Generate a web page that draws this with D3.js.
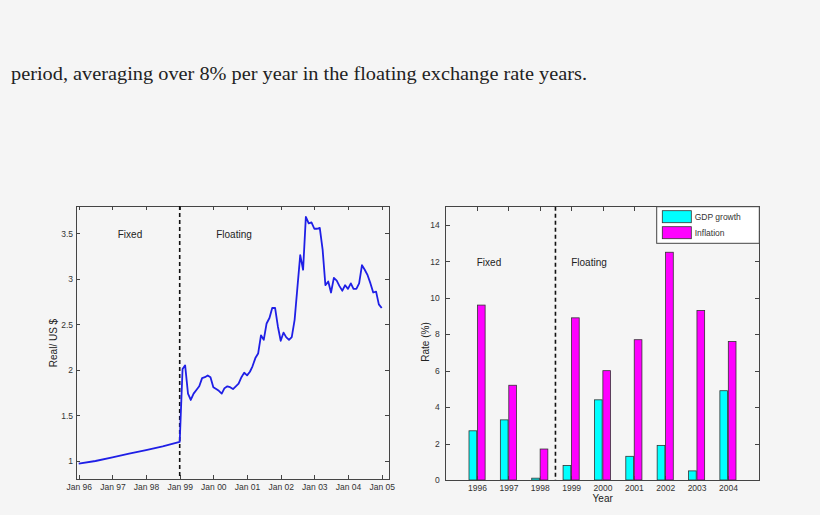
<!DOCTYPE html>
<html lang="en">
  <head>
    <meta charset="UTF-8"/>
    <title>Real per US dollar, GDP growth and inflation</title>
    <script src="https://d3js.org/d3.v7.min.js"></script>
    <style>
        html, body {
          margin: 0;
          background: #f5f5f5;
        }
        .axis text {
          font: 8.5px "Liberation Sans", Arial, sans-serif;
          fill: #333;
        }
        .axis line {
          stroke: #444;
          shape-rendering: crispEdges;
        }
        .frame {
          fill: none;
          stroke: #444;
          shape-rendering: crispEdges;
        }
        .label {
          font: 10px "Liberation Sans", Arial, sans-serif;
          fill: #222;
        }
        .prose {
          font: 18px "Liberation Serif", "DejaVu Serif", serif;
          fill: #222;
        }
    </style>
  </head>
  <body>
    <script>
        // exchange rate, Real per US $
        const rateDates = [
          "1996-01", "1996-07", "1997-01", "1997-07", "1998-01", "1998-07",
          "1999-01", "1999-02", "1999-03", "1999-04", "1999-05", "1999-06",
          "1999-07", "1999-08", "1999-09", "1999-10", "1999-11", "1999-12",
          "2000-01", "2000-02", "2000-03", "2000-04", "2000-05", "2000-06",
          "2000-07", "2000-08", "2000-09", "2000-10", "2000-11", "2000-12",
          "2001-01", "2001-02", "2001-03", "2001-04", "2001-05", "2001-06",
          "2001-07", "2001-08", "2001-09", "2001-10", "2001-11", "2001-12",
          "2002-01", "2002-02", "2002-03", "2002-04", "2002-05", "2002-06",
          "2002-07", "2002-08", "2002-09", "2002-10", "2002-11", "2002-12",
          "2003-01", "2003-02", "2003-03", "2003-04", "2003-05", "2003-06",
          "2003-07", "2003-08", "2003-09", "2003-10", "2003-11", "2003-12",
          "2004-01", "2004-02", "2004-03", "2004-04", "2004-05", "2004-06",
          "2004-07", "2004-08", "2004-09", "2004-10", "2004-11", "2004-12",
          "2005-01"
        ];
        const rateValues = [
          0.97, 1.00, 1.04, 1.08, 1.12, 1.16,
          1.21, 2.01, 2.05, 1.74, 1.67, 1.74,
          1.78, 1.82, 1.91, 1.92, 1.94, 1.92,
          1.81, 1.79, 1.77, 1.74, 1.80, 1.82,
          1.81, 1.79, 1.82, 1.85, 1.92, 1.97,
          1.94, 1.98, 2.04, 2.13, 2.18, 2.38,
          2.33, 2.51, 2.57, 2.68, 2.68, 2.48,
          2.32, 2.41, 2.36, 2.33, 2.36, 2.55,
          2.90, 3.26, 3.10, 3.68, 3.61, 3.62,
          3.55, 3.55, 3.56, 3.32, 2.93, 2.97,
          2.85, 3.01, 2.98, 2.92, 2.87, 2.93,
          2.89, 2.95, 2.89, 2.89, 2.95, 3.15,
          3.10, 3.04, 2.95, 2.85, 2.86, 2.72,
          2.68
        ];
        const rateTicks = [1, 1.5, 2, 2.5, 3, 3.5];
        const regimeChange = "1999-01";

        // yearly rates in percent (right panel)
        const years = [1996, 1997, 1998, 1999, 2000, 2001, 2002, 2003, 2004];
        const gdpGrowth = [2.7, 3.3, 0.1, 0.8, 4.4, 1.3, 1.9, 0.5, 4.9];
        const inflation = [9.6, 5.2, 1.7, 8.9, 6.0, 7.7, 12.5, 9.3, 7.6];
        const rateTicksPct = [0, 2, 4, 6, 8, 10, 12, 14];
        const seriesNames = ["GDP growth", "Inflation"];
        const seriesColors = ["#00ffff", "#ff00ff"];

        const parseMonth = d3.timeParse("%Y-%m");
        const monthFmt = d3.timeFormat("Jan %y");

        const svg = d3.select("body").append("svg")
            .attr("width", 820)
            .attr("height", 515)

        svg.append("rect")
            .attr("width", 820)
            .attr("height", 515)
            .attr("fill", "#f5f5f5")

        // line of body text above the figure
        svg.append("text")
            .attr("class", "prose")
            .attr("x", 11)
            .attr("y", 80)
            .attr("textLength", 576)
            .attr("lengthAdjust", "spacingAndGlyphs")
            .text("period, averaging over 8% per year in the floating exchange rate years.")

        // ---------- left panel: exchange rate ----------
        const L = {left: 76, right: 389, top: 206, bottom: 479}

        const x1 = d3.scaleTime()
            .domain([parseMonth("1996-01"), parseMonth("2005-01")])
            .range([78.7, 381.7])
        const y1 = d3.scaleLinear()
            .domain([1, 3.5])
            .range([461, 233.3])

        const left = svg.append("g")

        left.append("g")
            .attr("class", "axis")
            .attr("transform", `translate(0, ${L.bottom})`)
            .call(d3.axisBottom(x1).ticks(d3.timeYear.every(1)).tickFormat(monthFmt).tickSize(-4).tickPadding(5))
        left.append("g")
            .attr("class", "axis")
            .attr("transform", `translate(0, ${L.top})`)
            .call(d3.axisTop(x1).ticks(d3.timeYear.every(1)).tickFormat("").tickSize(-4))
        left.append("g")
            .attr("class", "axis")
            .attr("transform", `translate(${L.left}, 0)`)
            .call(d3.axisLeft(y1).tickValues(rateTicks).tickFormat(d3.format("")).tickSize(-4).tickPadding(3))
        left.append("g")
            .attr("class", "axis")
            .attr("transform", `translate(${L.right}, 0)`)
            .call(d3.axisRight(y1).tickValues(rateTicks).tickFormat("").tickSize(-4))
        left.selectAll(".domain").remove()

        left.append("rect")
            .attr("class", "frame")
            .attr("x", L.left)
            .attr("y", L.top)
            .attr("width", L.right - L.left)
            .attr("height", L.bottom - L.top)

        left.append("line")
            .attr("x1", x1(parseMonth(regimeChange)))
            .attr("x2", x1(parseMonth(regimeChange)))
            .attr("y1", L.top)
            .attr("y2", L.bottom)
            .attr("stroke", "#111")
            .attr("stroke-width", 1.6)
            .attr("stroke-dasharray", "4,3")

        const line = d3.line()
            .x((d, i) => x1(parseMonth(rateDates[i])))
            .y(d => y1(d))

        left.append("path")
            .datum(rateValues)
            .attr("d", line)
            .attr("fill", "none")
            .attr("stroke", "#1f1fe6")
            .attr("stroke-width", 1.8)
            .attr("stroke-linejoin", "round")

        left.append("text").attr("class", "label")
            .attr("x", 130).attr("y", 238).attr("text-anchor", "middle").text("Fixed")
        left.append("text").attr("class", "label")
            .attr("x", 234).attr("y", 238).attr("text-anchor", "middle").text("Floating")
        left.append("text").attr("class", "label")
            .attr("transform", "translate(57, 343) rotate(-90)")
            .attr("text-anchor", "middle")
            .text("Real/ US $")

        // ---------- right panel: GDP growth and inflation ----------
        const R = {left: 445.7, right: 759.3, top: 206.7, bottom: 480}

        const x2 = d3.scaleLinear()
            .domain([1995, 2005])
            .range([R.left, R.right])
        const y2 = d3.scaleLinear()
            .domain([0, 15])
            .range([R.bottom, R.top])

        const right = svg.append("g")

        right.append("g")
            .attr("class", "axis")
            .attr("transform", `translate(0, ${R.bottom})`)
            .call(d3.axisBottom(x2).tickValues(years).tickFormat(d3.format("d")).tickSize(-4).tickPadding(5))
        right.append("g")
            .attr("class", "axis")
            .attr("transform", `translate(0, ${R.top})`)
            .call(d3.axisTop(x2).tickValues(years).tickFormat("").tickSize(-4))
        right.append("g")
            .attr("class", "axis")
            .attr("transform", `translate(${R.left}, 0)`)
            .call(d3.axisLeft(y2).tickValues(rateTicksPct).tickSize(-4).tickPadding(6))
        right.append("g")
            .attr("class", "axis")
            .attr("transform", `translate(${R.right}, 0)`)
            .call(d3.axisRight(y2).tickValues(rateTicksPct).tickFormat("").tickSize(-4))
        right.selectAll(".domain").remove()

        // grouped bars: GDP left of the year, inflation right of it
        const barW = 0.245, gap = 0.012
        const series = [gdpGrowth, inflation]
        series.forEach((vals, s) => {
          right.append("g")
            .selectAll("rect")
            .data(vals)
            .join("rect")
              .attr("x", (d, i) => s === 0 ? x2(years[i] - gap - barW) : x2(years[i] + gap))
              .attr("width", x2(barW) - x2(0))
              .attr("y", d => y2(d))
              .attr("height", d => y2(0) - y2(d))
              .attr("fill", seriesColors[s])
              .attr("stroke", "#333")
              .attr("stroke-width", 0.8)
        })

        right.append("line")
            .attr("x1", x2(1998.5))
            .attr("x2", x2(1998.5))
            .attr("y1", R.top)
            .attr("y2", R.bottom)
            .attr("stroke", "#111")
            .attr("stroke-width", 1.6)
            .attr("stroke-dasharray", "4,3")

        right.append("rect")
            .attr("class", "frame")
            .attr("x", R.left)
            .attr("y", R.top)
            .attr("width", R.right - R.left)
            .attr("height", R.bottom - R.top)

        // legend
        const legend = right.append("g")
            .attr("transform", "translate(656.7, 206.7)")
        legend.append("rect")
            .attr("width", 102.6)
            .attr("height", 36.6)
            .attr("fill", "#fff")
            .attr("stroke", "#444")
        seriesNames.forEach((name, s) => {
          legend.append("rect")
              .attr("x", 5.6)
              .attr("y", 4 + s * 16)
              .attr("width", 29)
              .attr("height", 12)
              .attr("fill", seriesColors[s])
              .attr("stroke", "#333")
              .attr("stroke-width", 0.8)
          legend.append("text")
              .attr("class", "axis")
              .attr("x", 38)
              .attr("y", 13 + s * 16)
              .style("font", "8.5px 'Liberation Sans', Arial, sans-serif")
              .style("fill", "#333")
              .text(name)
        })

        right.append("text").attr("class", "label")
            .attr("x", 489).attr("y", 266).attr("text-anchor", "middle").text("Fixed")
        right.append("text").attr("class", "label")
            .attr("x", 589).attr("y", 266).attr("text-anchor", "middle").text("Floating")
        right.append("text").attr("class", "label")
            .attr("x", 602.7).attr("y", 502).attr("text-anchor", "middle").text("Year")
        right.append("text").attr("class", "label")
            .attr("transform", "translate(428.5, 342) rotate(-90)")
            .attr("text-anchor", "middle")
            .text("Rate (%)")

    </script>
  </body>
</html>
